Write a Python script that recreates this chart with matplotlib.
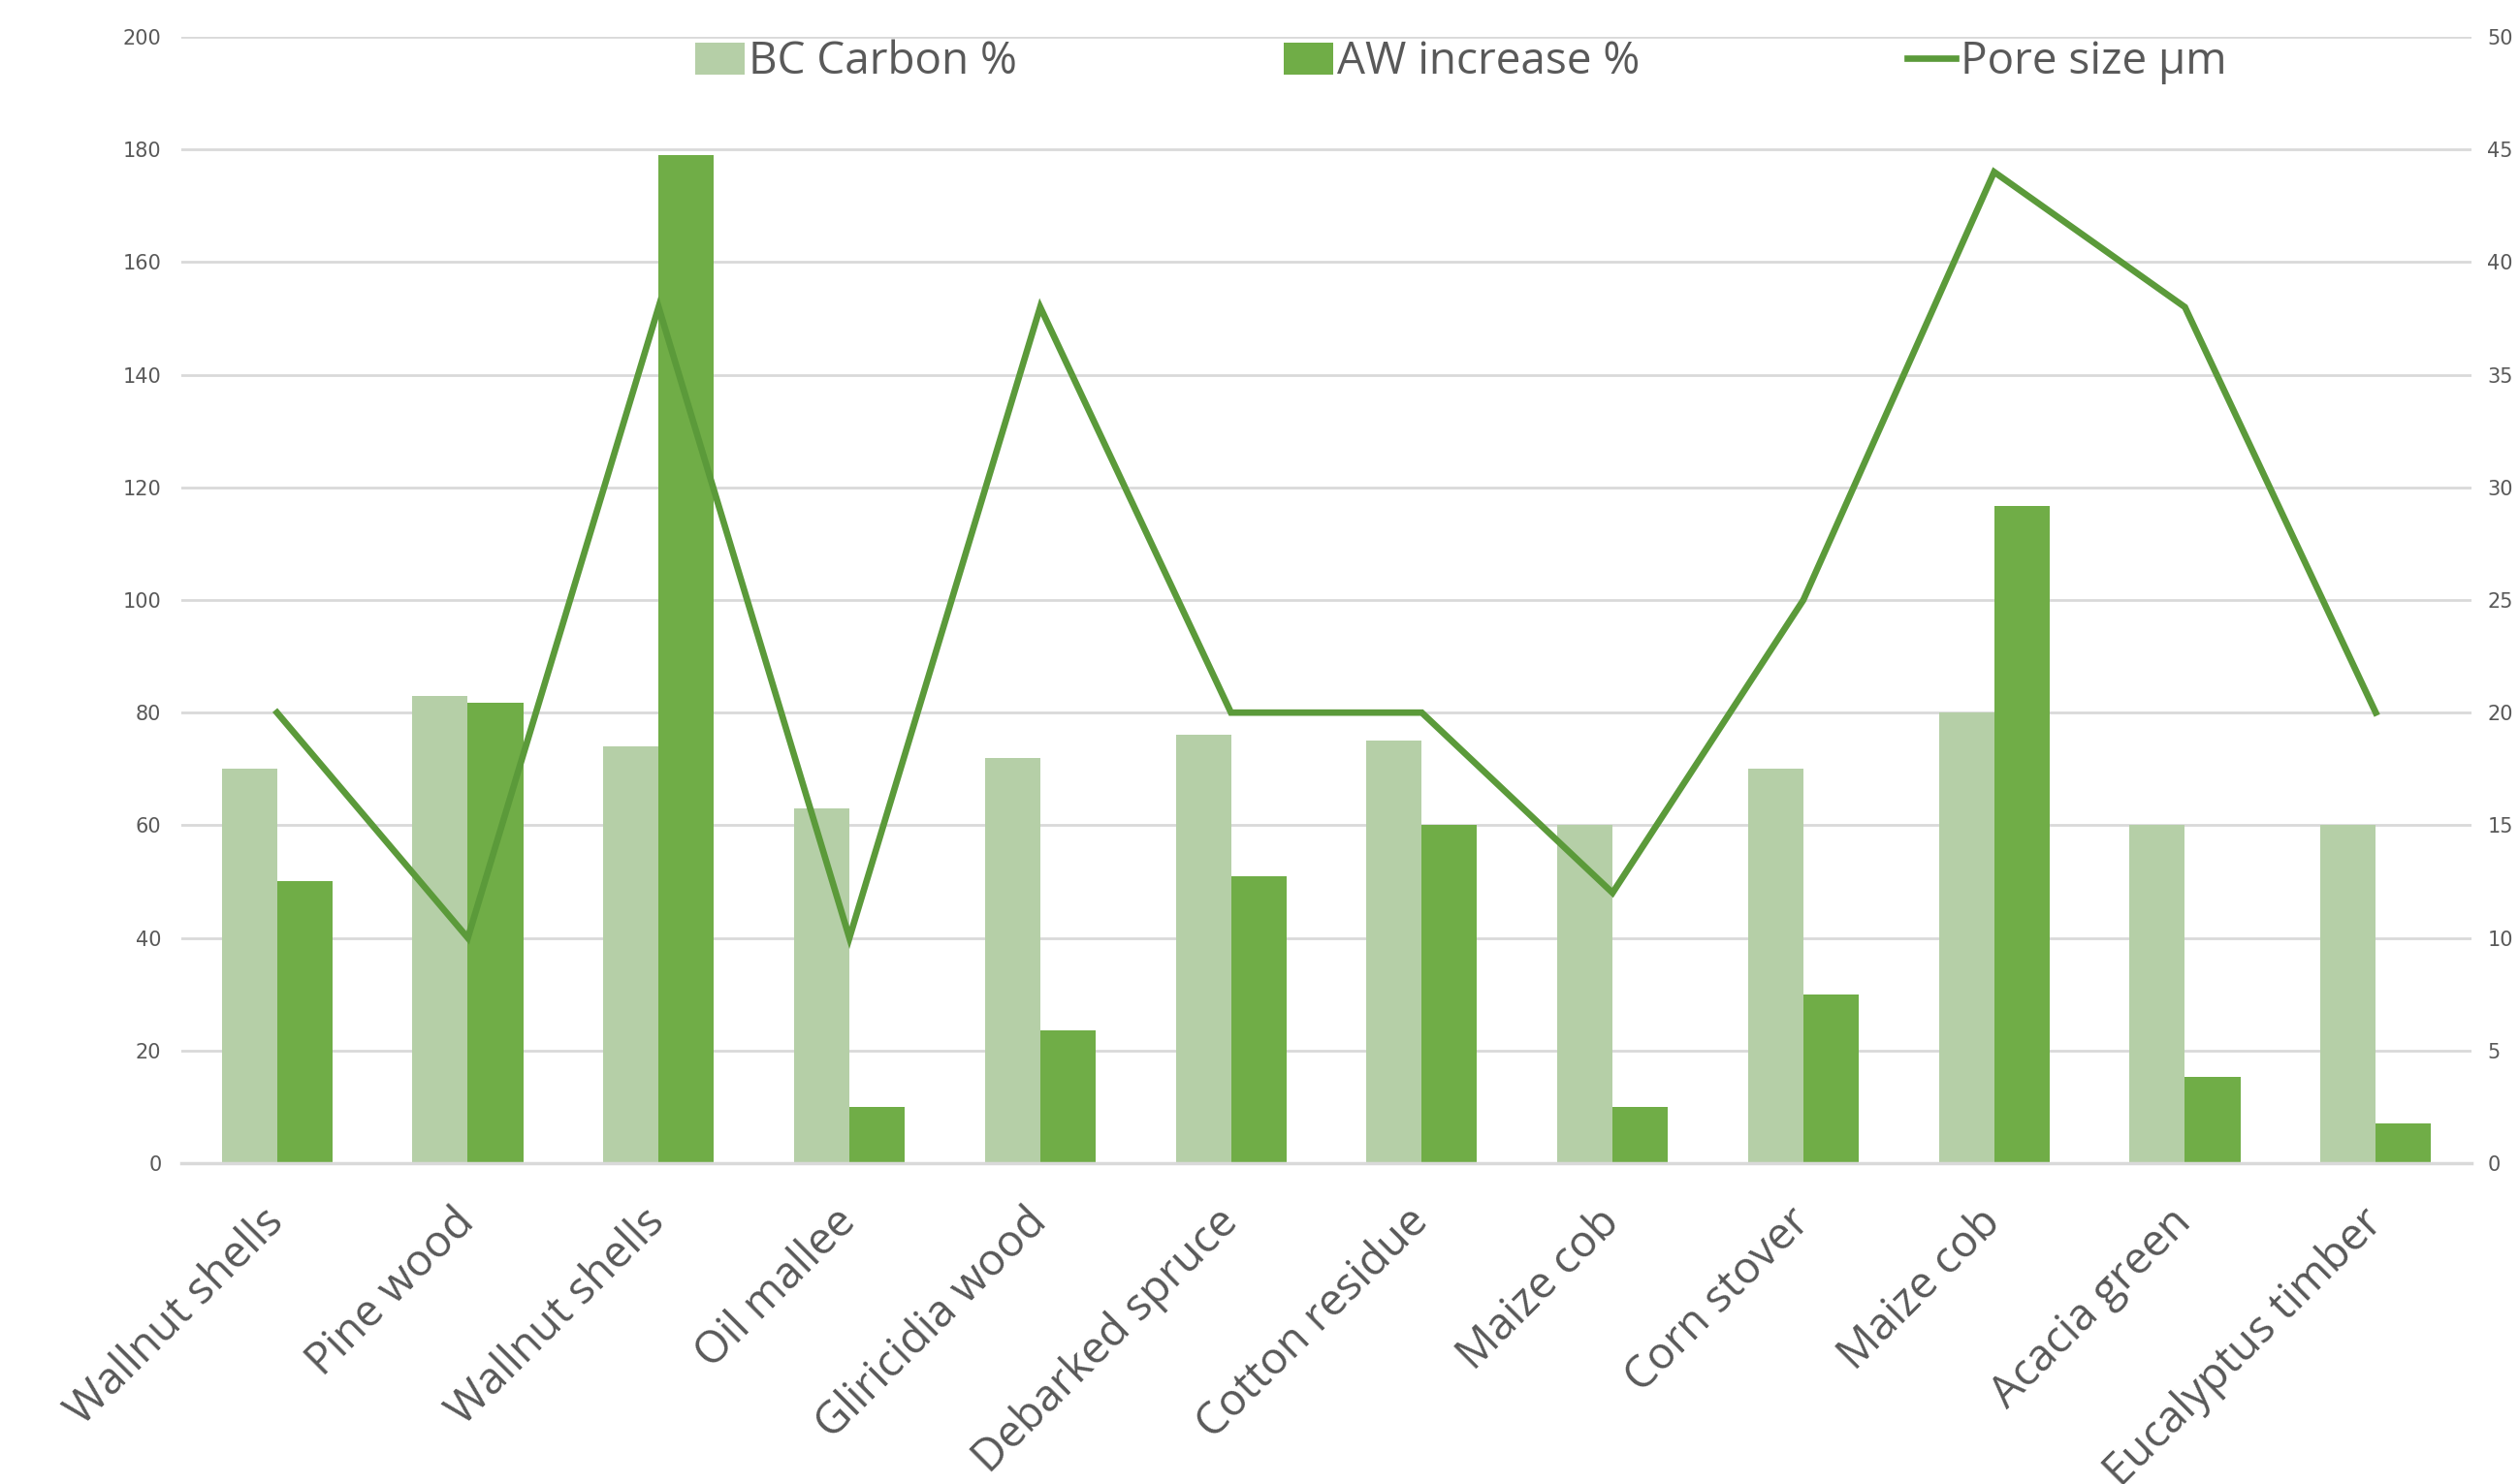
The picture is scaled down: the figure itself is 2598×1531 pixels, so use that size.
import matplotlib
matplotlib.use("Agg")
import matplotlib.pyplot as plt
import numpy as np
from matplotlib.patches import Patch
from matplotlib.lines import Line2D

categories = ["Wallnut shells", "Pine wood", "Wallnut shells", "Oil mallee",
              "Gliricidia wood", "Debarked spruce", "Cotton residue", "Maize cob",
              "Corn stover", "Maize cob", "Acacia green", "Eucalyptus timber"]
bc_carbon = [70, 83, 74, 63, 72, 76, 75, 60, 70, 80, 60, 60]
aw_increase = [50, 81.7, 179, 10, 23.5, 51, 60, 10, 30, 116.7, 15.3, 7]
pore_size = [20, 10, 38, 10, 38, 20, 20, 12, 25, 44, 38, 20]

left_ticks = list(range(0, 201, 20))
right_ticks = list(range(0, 51, 5))

c_light = "#B5CFA7"
c_dark = "#70AD47"
c_line = "#5B9A3A"
c_text = "#595959"
c_grid = "#D9D9D9"

fig = plt.figure(figsize=(25.98, 15.31), dpi=100)
ax = fig.add_axes([0.0721, 0.2162, 0.9089, 0.759])
x = np.arange(len(categories))
w = 0.29
ax.bar(x - w / 2, bc_carbon, width=w, color=c_light, zorder=2)
ax.bar(x + w / 2, aw_increase, width=w, color=c_dark, zorder=2)
ax.set_xlim(-0.5, len(categories) - 0.5)
ax.set_ylim(0, 200)
ax.set_yticks(left_ticks)
ax.yaxis.grid(True, color=c_grid, linewidth=2, zorder=0)
ax.set_axisbelow(True)
for s in ["top", "right", "left"]:
    ax.spines[s].set_visible(False)
ax.spines["bottom"].set_color(c_grid)
ax.spines["bottom"].set_linewidth(2.5)
ax.tick_params(axis="y", length=0, pad=15, labelsize=15, labelcolor=c_text)
ax.tick_params(axis="x", length=0, pad=39)
ax.set_xticks(x)
ax.set_xticklabels(categories, rotation=45, ha="right", va="center",
                   rotation_mode="anchor", fontsize=33, color=c_text,
                   family="Open Sans")

ax2 = ax.twinx()
ax2.plot(x, pore_size, color=c_line, linewidth=4.8, zorder=3, solid_joinstyle="miter")
ax2.set_ylim(0, 50)
ax2.set_yticks(right_ticks)
for s in ["top", "right", "left", "bottom"]:
    ax2.spines[s].set_visible(False)
ax2.tick_params(axis="y", length=0, pad=12, labelsize=15, labelcolor=c_text)

handles = [Patch(facecolor=c_light, edgecolor="none"),
           Patch(facecolor=c_dark, edgecolor="none"),
           Line2D([0], [0], color=c_line, linewidth=4.8)]
labels = ["BC Carbon %", "AW increase %", "Pore size µm"]
leg = fig.legend(handles, labels, loc="center", bbox_to_anchor=(0.580, 0.958),
                 ncol=3, frameon=False, handlelength=1.1,
                 handleheight=0.75, handletextpad=0.1, columnspacing=6.0,
                 prop={"family": "Open Sans", "size": 33})
for t in leg.get_texts():
    t.set_color(c_text)

fig.savefig("out.png", dpi=100)
